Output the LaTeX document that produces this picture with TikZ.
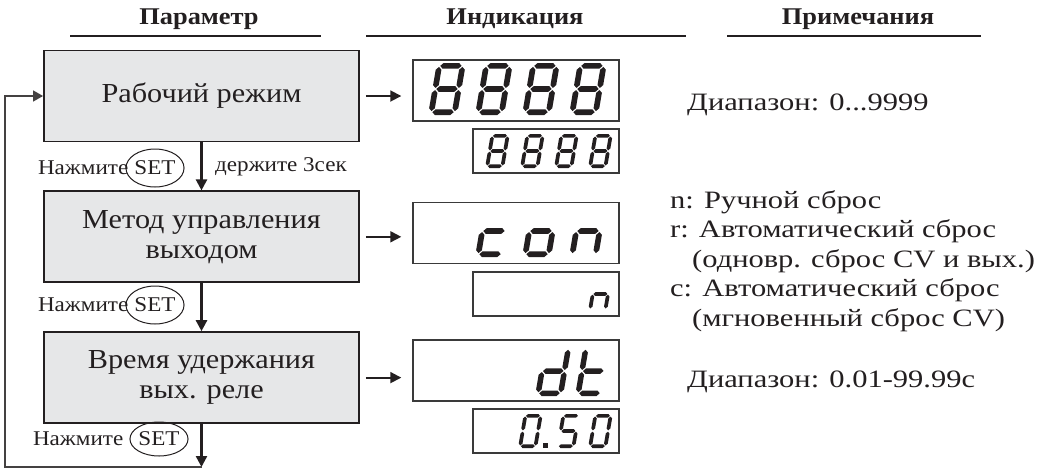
\documentclass[tikz,border=0pt]{standalone}
\usepackage{fontspec}
\setmainfont{Liberation Serif}[FakeStretch=1.1]
\newfontfamily\notefont{Liberation Serif}[FakeStretch=1.22]
\usetikzlibrary{arrows.meta,positioning,shapes.geometric}
\definecolor{ink}{HTML}{231F20}
\definecolor{panelfill}{HTML}{E6E7E8}
\definecolor{lcdline}{HTML}{3A3A3A}
\newcommand{\boxfont}{\fontsize{27.5}{30}\selectfont}
\newcommand{\headfont}{\fontsize{24}{28}\selectfont\bfseries}
\newcommand{\keyfont}{\fontsize{21}{24}\selectfont}
\newcommand{\notesize}{\notefont\fontsize{25}{29.5}\selectfont}
\tikzset{
 every node/.append style={text=ink},
 stage/.style={draw=ink,fill=panelfill,line width=1.8pt,minimum width=315pt,minimum height=91pt,align=center,font=\boxfont},
 head/.style={font=\headfont,inner sep=0pt},
 rule/.style={draw=ink,line width=1.8pt},
 lcd/.style={draw=lcdline,line width=1.4pt,inner sep=0pt,minimum width=206pt,minimum height=61pt},
 lcdsmall/.style={lcd,minimum width=146pt,minimum height=44pt},
 key/.style={ellipse,draw=ink,line width=1pt,minimum width=44pt,minimum height=38pt,inner sep=0pt,font=\keyfont},
 word/.style={font=\keyfont,inner sep=0pt},
 note/.style={font=\notesize,inner sep=0pt,align=left},
 flow/.style={-{Triangle[length=11pt,width=11pt]},draw=ink,line width=2.4pt},
 feed/.style={-{Triangle[length=11pt,width=11pt]},draw=ink,line width=1.8pt,shorten <=6pt,shorten >=11pt},
 route/.style={-{Triangle[length=10pt,width=11pt]},draw=ink!85,line width=1.3pt},
 seg a/.style={insert path={(0.075,0.945) -- (0.13,1) -- (0.43,1) -- (0.485,0.945) -- (0.43,0.89) -- (0.13,0.89) -- cycle}},
 seg g/.style={insert path={(0.075,0.5) -- (0.13,0.555) -- (0.43,0.555) -- (0.485,0.5) -- (0.43,0.445) -- (0.13,0.445) -- cycle}},
 seg d/.style={insert path={(0.075,0.055) -- (0.13,0.11) -- (0.43,0.11) -- (0.485,0.055) -- (0.43,0) -- (0.13,0) -- cycle}},
 seg e/.style={insert path={(0.055,0.075) -- (0.11,0.13) -- (0.11,0.425) -- (0.055,0.48) -- (0,0.425) -- (0,0.13) -- cycle}},
 seg f/.style={insert path={(0.055,0.52) -- (0.11,0.575) -- (0.11,0.87) -- (0.055,0.925) -- (0,0.87) -- (0,0.575) -- cycle}},
 seg c/.style={insert path={(0.505,0.075) -- (0.56,0.13) -- (0.56,0.425) -- (0.505,0.48) -- (0.45,0.425) -- (0.45,0.13) -- cycle}},
 seg b/.style={insert path={(0.505,0.52) -- (0.56,0.575) -- (0.56,0.87) -- (0.505,0.925) -- (0.45,0.87) -- (0.45,0.575) -- cycle}},
}
% x, y of lower left corner, height, segments
\newcommand{\segdigit}[4]{%
 \begin{scope}[shift={(#1,#2)},x=#3pt,y=#3pt,xslant=.17]
  \foreach \s in {#4} {\edef\segcmd{\noexpand\fill[ink,seg \s];}\segcmd}
 \end{scope}}

\begin{document}
\begin{tikzpicture}[x=1pt,y=-1pt]
\useasboundingbox (0,0) rectangle (1053,472);

\node[head] (hparam) at (199,19) {Параметр};
\node[head] (hview) at (515,19) {Индикация};
\node[head] (hnote) at (858,19) {Примечания};
\draw[rule] (70,36) -- (321,36);
\draw[rule] (366,36) -- (686,36);
\draw[rule] (727,36) -- (981,36);

\node[stage] (mode) at (201.5,96) {Рабочий режим};
\node[stage,below=48pt of mode] (method) {Метод управления\\выходом};
\node[stage,below=48pt of method] (hold) {Время удержания\\вых. реле};

\node[lcd] (lcd1) at (516,90.5) {};
\node[lcdsmall] (sub1) at (546,151) {};
\node[lcd] (lcd2) at (516,233) {};
\node[lcdsmall] (sub2) at (546,294) {};
\node[lcd] (lcd3) at (516,370.5) {};
\node[lcdsmall] (sub3) at (546,431) {};

\foreach \x in {428,475,522,569} {\segdigit{\x}{115}{52}{a,b,c,d,e,f,g}}
\foreach \x in {485,520,554,588} {\segdigit{\x}{168}{34}{a,b,c,d,e,f,g}}
\segdigit{475}{257}{52}{d,e,g}
\segdigit{522}{257}{52}{c,d,e,g}
\segdigit{569}{257}{52}{c,e,g}
\segdigit{588}{311}{34}{c,e,g}
\segdigit{535}{396}{50}{b,c,d,e,g}
\segdigit{575}{396}{50}{d,e,f,g}
\segdigit{518}{448}{34}{a,b,c,d,e,f}
\fill[ink] (543,448) rectangle (548,443);
\segdigit{556}{448}{34}{a,c,d,f,g}
\segdigit{588}{448}{34}{a,b,c,d,e,f}

\draw[feed] (mode.east) -- (mode.east -| lcd1.west);
\draw[feed] (method.east) -- (method.east -| lcd2.west);
\draw[feed] (hold.east) -- (hold.east -| lcd3.west);

\draw[flow] (mode.south) -- (method.north);
\draw[flow] (method.south) -- (hold.north);
\coordinate (loopend) at (201.5,467);
\coordinate (loopcorner) at (5,467);
\draw[flow] (hold.south) -- (loopend);
\draw[route] (loopend) -- (loopcorner) |- (mode.west);

\node[key] (set1) at (155,168) {SET};
\node[word,anchor=east] (press1) at ([xshift=3pt]set1.west) {Нажмите};
\node[word,anchor=west] (holdtime) at (215,167) {держите 3сек};
\node[key] (set2) at (155,305) {SET};
\node[word,anchor=east] (press2) at ([xshift=3pt]set2.west) {Нажмите};
\node[key,minimum width=46pt,minimum height=34pt] (set3) at (159,439) {SET};
\node[word,anchor=east] (press3) at ([xshift=-6pt]set3.west) {Нажмите};

\node[note,anchor=base west] (range1) at (687,110) {Диапазон: 0...9999};
\node[note,anchor=north west] (reset) at (670,190) {n: Ручной сброс\\
  r: Автоматический сброс\\
  \hspace*{22pt}(одновр. сброс CV и вых.)\\
  c: Автоматический сброс\\
  \hspace*{22pt}(мгновенный сброс CV)};
\node[note,anchor=base west] (range2) at (687,387) {Диапазон: 0.01-99.99с};
\end{tikzpicture}
\end{document}
